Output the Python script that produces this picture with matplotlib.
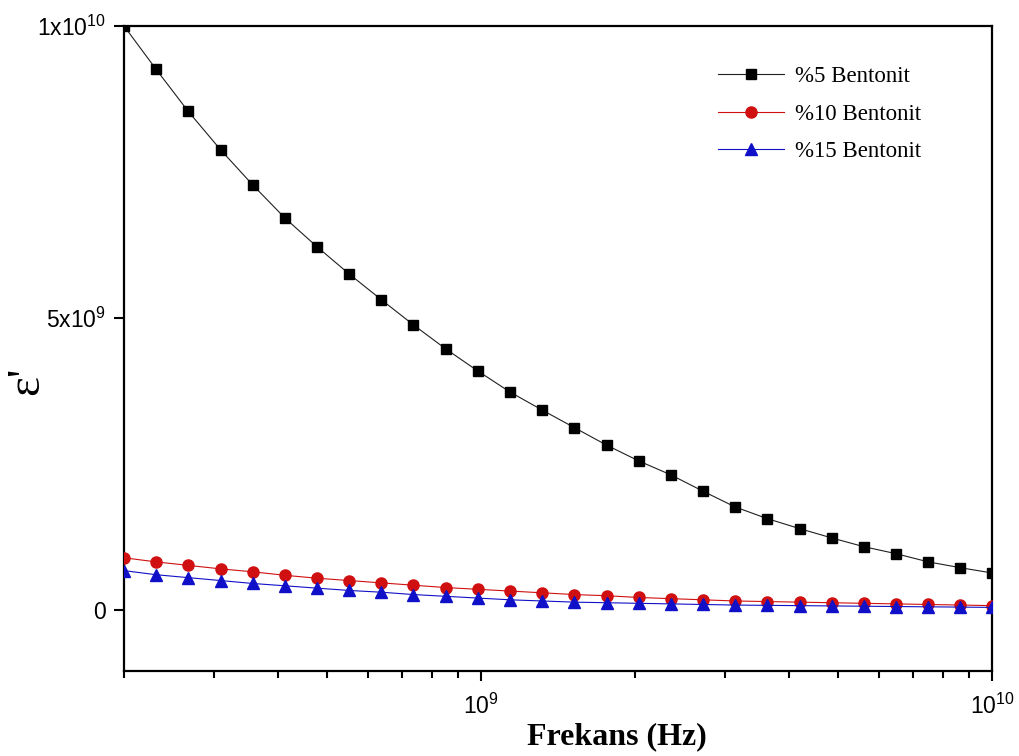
import matplotlib
matplotlib.use("Agg")
import matplotlib.pyplot as plt
from matplotlib.ticker import FixedLocator, FixedFormatter, LogLocator, NullFormatter

# Frequency points (Hz), log spaced from 2e8 to 1e10
freq = [2.00e8, 2.31e8, 2.67e8, 3.09e8, 3.57e8, 4.13e8, 4.77e8, 5.52e8, 6.38e8, 7.37e8,
        8.52e8, 9.85e8, 1.139e9, 1.317e9, 1.522e9, 1.760e9, 2.034e9, 2.352e9, 2.719e9, 3.143e9,
        3.633e9, 4.200e9, 4.855e9, 5.612e9, 6.488e9, 7.500e9, 8.670e9, 1.0e10]

# Real permittivity for each bentonite ratio
eps_5 = [10.0e9, 9.26e9, 8.54e9, 7.88e9, 7.28e9, 6.71e9, 6.22e9, 5.75e9, 5.31e9, 4.88e9,
         4.47e9, 4.09e9, 3.73e9, 3.42e9, 3.12e9, 2.82e9, 2.55e9, 2.31e9, 2.03e9, 1.76e9,
         1.56e9, 1.39e9, 1.23e9, 1.08e9, 0.96e9, 0.82e9, 0.72e9, 0.63e9]
eps_10 = [0.89e9, 0.82e9, 0.76e9, 0.70e9, 0.65e9, 0.59e9, 0.54e9, 0.50e9, 0.46e9, 0.42e9,
          0.38e9, 0.35e9, 0.32e9, 0.29e9, 0.26e9, 0.24e9, 0.21e9, 0.19e9, 0.17e9, 0.15e9,
          0.14e9, 0.13e9, 0.12e9, 0.11e9, 0.10e9, 0.09e9, 0.08e9, 0.07e9]
eps_15 = [0.67e9, 0.60e9, 0.55e9, 0.50e9, 0.45e9, 0.41e9, 0.37e9, 0.33e9, 0.30e9, 0.26e9,
          0.23e9, 0.20e9, 0.17e9, 0.15e9, 0.13e9, 0.12e9, 0.11e9, 0.10e9, 0.09e9, 0.08e9,
          0.075e9, 0.07e9, 0.065e9, 0.06e9, 0.055e9, 0.05e9, 0.045e9, 0.04e9]

labels = ["%5 Bentonit", "%10 Bentonit", "%15 Bentonit"]

y_ticks = [0, 5e9, 1e10]
y_ticklabels = ["0", "5x10$^{9}$", "1x10$^{10}$"]
x_ticks = [1e9, 1e10]
x_ticklabels = ["10$^{9}$", "10$^{10}$"]

plt.rcParams['font.family'] = ['Liberation Sans', 'DejaVu Sans']
plt.rcParams['mathtext.fontset'] = 'custom'
plt.rcParams['mathtext.rm'] = 'Liberation Sans'
plt.rcParams['mathtext.default'] = 'regular'

fig = plt.figure(figsize=(10.2, 7.56), dpi=100)
ax = fig.add_axes([0.1216, 0.1124, 0.851, 0.8532])

ax.plot(freq, eps_5, color='#202020', lw=0.8, marker='s', ms=7.5, mfc='black', mec='black',
        label=labels[0], zorder=3)
ax.plot(freq, eps_10, color='#d01010', lw=0.8, marker='o', ms=8, mfc='#d01010', mec='#d01010',
        label=labels[1], zorder=3)
ax.plot(freq, eps_15, color='#1010c8', lw=0.8, marker='^', ms=8.5, mfc='#1010c8', mec='#1010c8',
        label=labels[2], zorder=4)

ax.set_xscale('log')
ax.set_xlim(2e8, 1e10)
ax.set_ylim(-1.05e9, 1e10)

# axis ticks
ax.xaxis.set_major_locator(FixedLocator(x_ticks))
ax.xaxis.set_major_formatter(FixedFormatter(x_ticklabels))
ax.xaxis.set_minor_locator(LogLocator(base=10, subs=range(2, 10)))
ax.xaxis.set_minor_formatter(NullFormatter())
ax.yaxis.set_major_locator(FixedLocator(y_ticks))
ax.yaxis.set_major_formatter(FixedFormatter(y_ticklabels))
ax.tick_params(axis='both', which='major', direction='out', length=7, width=1.5,
               labelsize=16.5, pad=6)
ax.tick_params(axis='x', which='minor', direction='out', length=5, width=1.5)
ax.tick_params(axis='x', which='major', pad=9)

for s in ax.spines.values():
    s.set_linewidth(1.6)

ax.set_xlabel('Frekans (Hz)', fontsize=23, fontweight='bold', family='Liberation Serif')
ax.xaxis.set_label_coords(0.568, -0.08)

# y label as figure text so it sits where the reference has it
fig.text(27 / 1020, 1 - 381 / 756, "ε'", rotation=90, ha='center', va='center',
         fontsize=34, family='Liberation Serif')

ax.legend(loc='upper left', bbox_to_anchor=(0.66, 0.97), frameon=False,
          prop={'family': 'Liberation Serif', 'size': 16.5}, handlelength=2.9,
          handletextpad=0.5, labelspacing=0.72)

plt.savefig('out.png', dpi=100)
